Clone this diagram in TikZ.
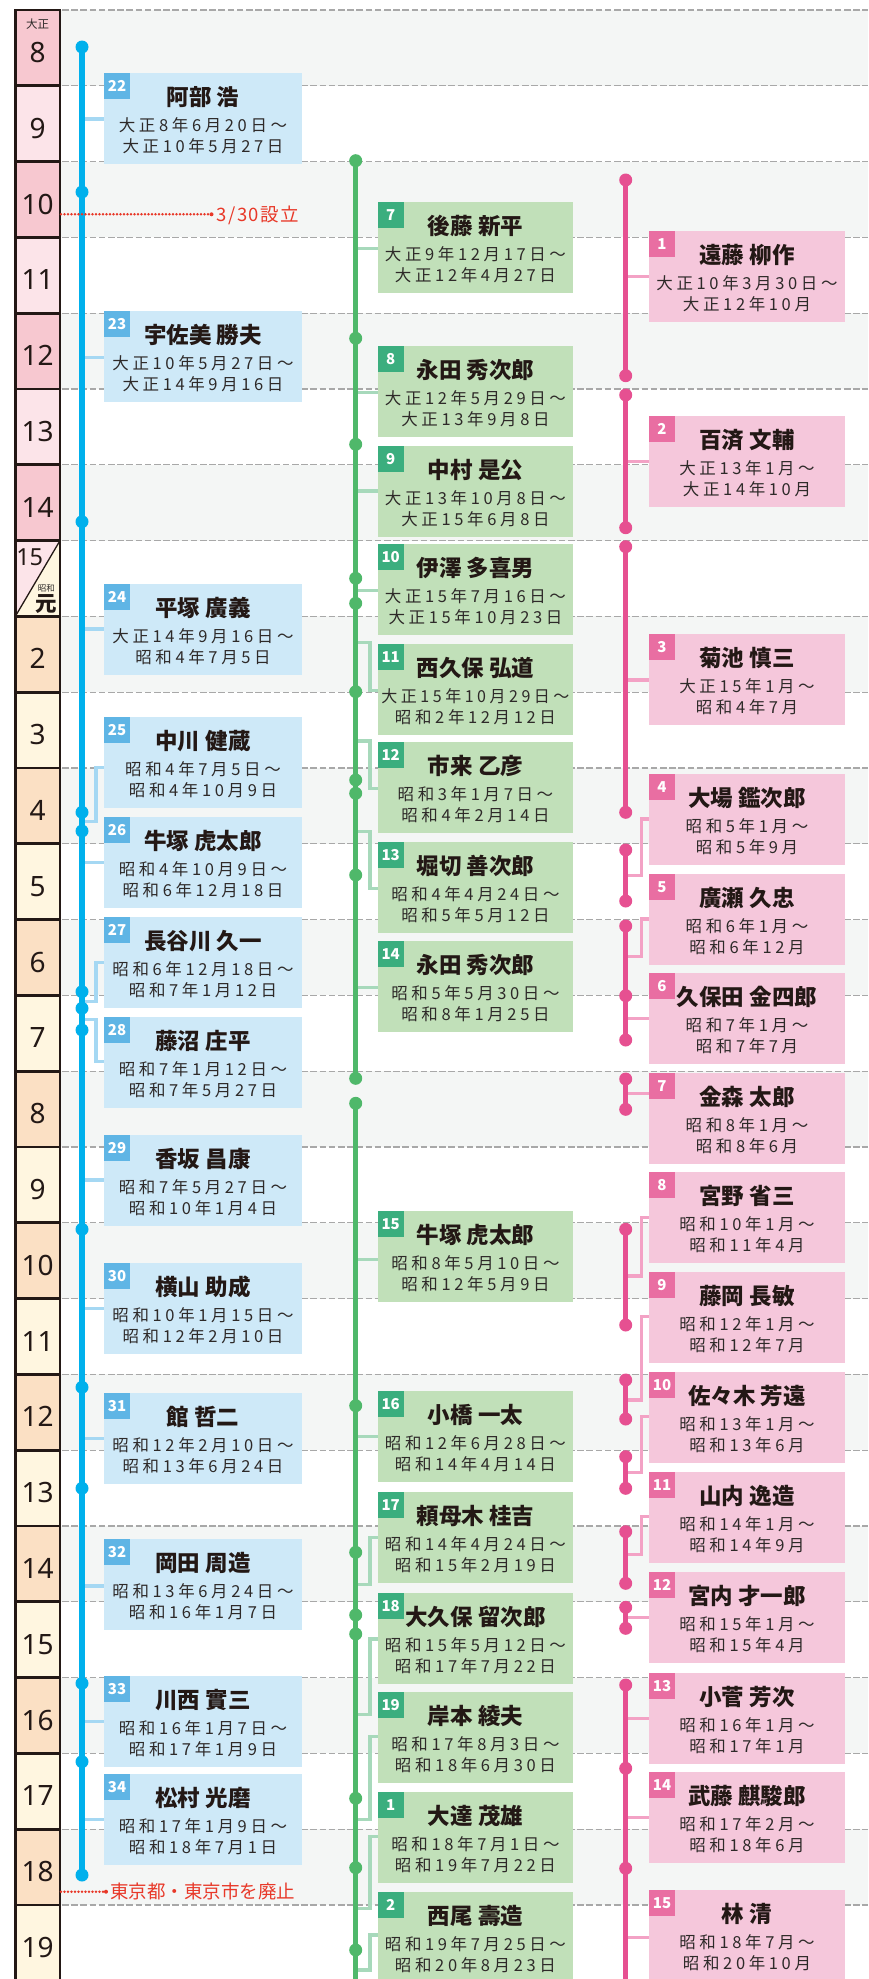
\documentclass[tikz,border=0pt]{standalone}
\usepackage{fontspec}
\usepackage{graphicx}
\setmainfont{Noto Sans CJK JP}
\newfontfamily\cjk{Noto Sans CJK JP}
\newfontfamily\cjkls[LetterSpace=22]{Noto Sans CJK JP}
\newfontfamily\cjkred[LetterSpace=8]{Noto Sans CJK JP}
\newfontfamily\lat{Noto Sans}
\newcommand\namefont{\cjk\bfseries\fontsize{22.5}{24}\selectfont}
\newcommand\datefont{\cjkls\fontsize{16.5}{18}\selectfont}
\newcommand\badgefont{\cjk\bfseries\fontsize{15}{16}\selectfont}
\newcommand\yrfont{\lat\fontsize{28}{30}\selectfont}

\definecolor{mainB}{HTML}{00B0EC}
\definecolor{boxB}{HTML}{CEE9F8}
\definecolor{badgeB}{HTML}{5FB5E5}
\definecolor{linkB}{HTML}{A5D8F3}
\definecolor{mainG}{HTML}{4FB86A}
\definecolor{boxG}{HTML}{C1E0B9}
\definecolor{badgeG}{HTML}{3BAE7E}
\definecolor{linkG}{HTML}{A7D9BB}
\definecolor{mainP}{HTML}{E65091}
\definecolor{boxP}{HTML}{F5C7DB}
\definecolor{badgeP}{HTML}{E96EA2}
\definecolor{linkP}{HTML}{F3A2C5}
\definecolor{nametc}{HTML}{231815}
\definecolor{datetc}{HTML}{2E2A29}
\definecolor{redc}{HTML}{E83828}
\definecolor{dashc}{HTML}{A8A8A8}
\definecolor{bandc}{HTML}{F4F6F5}
\definecolor{tdark}{HTML}{F7C8D0}
\definecolor{tlight}{HTML}{FCE4E9}
\definecolor{sdark}{HTML}{FBE0C4}
\definecolor{slight}{HTML}{FFF6E0}
\definecolor{gridc}{HTML}{231815}

\def\XcolB{104}\def\WcolB{198pt}\def\LcolB{82}
\def\XcolG{377.7}\def\WcolG{195.5pt}\def\LcolG{355.7}
\def\XcolP{649}\def\WcolP{196pt}\def\LcolP{625.7}

\newsavebox\dlbox
\newcommand\dline[1]{\sbox\dlbox{#1}\ifdim\wd\dlbox>188pt\resizebox{188pt}{\height}{\usebox\dlbox}\else\usebox\dlbox\fi}

\newcommand\entry[7]{%
  \edef\curx{\csname Xcol#1\endcsname}%
  \edef\curw{\csname Wcol#1\endcsname}%
  \node[entrybox,fill=box#1,minimum width=\curw] (#2) at (\curx,#3) {};
  \node[badge,fill=badge#1] (#2n) at (#2.north west) {#4};
  \node[nm] (#2t) at ([yshift=-24pt]#2.north) {#5};
  \node[dt] (#2a) at ([yshift=-52.5pt]#2.north) {\dline{#6}};
  \node[dt] (#2b) at ([yshift=-73.5pt]#2.north) {\dline{#7}};
}
\newcommand\sconn[3]{%
  \edef\curl{\csname Lcol#1\endcsname}%
  \coordinate (#2l) at (\curl,#3);
  \draw[conn#1] (#2l) -- (#2l -| #2.west);
}
\newcommand\econn[5]{%
  \edef\curl{\csname Lcol#1\endcsname}%
  \coordinate (#2l) at (\curl,#3);
  \coordinate (#2e) at (#4,#5);
  \draw[conn#1] (#2l) -| (#2e) -- (#2e -| #2.west);
}

\pgfdeclarelayer{bg}
\pgfdeclarelayer{conn}
\pgfsetlayers{bg,conn,main}

\begin{document}
\begin{tikzpicture}[x=1pt,y=-1pt,
  entrybox/.style={anchor=north west,inner sep=0pt,outer sep=0pt,minimum height=91pt,draw=none},
  badge/.style={anchor=north west,inner sep=0pt,outer sep=0pt,minimum width=26pt,minimum height=26pt,text=white,font=\badgefont,text height=10.8pt,text depth=0pt},
  nm/.style={inner sep=0pt,font=\namefont,text=nametc,text height=16.6pt,text depth=0pt},
  dt/.style={inner sep=0pt,font=\datefont,text=datetc,text height=12.2pt,text depth=0pt},
  dotB/.style={circle,fill=mainB,minimum size=13pt,inner sep=0pt,outer sep=0pt},
  dotG/.style={circle,fill=mainG,minimum size=13pt,inner sep=0pt,outer sep=0pt},
  dotP/.style={circle,fill=mainP,minimum size=13pt,inner sep=0pt,outer sep=0pt},
  lineB/.style={mainB,line width=5.5pt},
  lineG/.style={mainG,line width=5.5pt},
  lineP/.style={mainP,line width=5.5pt},
  connB/.style={linkB,line width=3.5pt},
  connG/.style={linkG,line width=3.5pt},
  connP/.style={linkP,line width=3.5pt},
  dashline/.style={dashc,line width=1.2pt,dash pattern=on 6.5pt off 2.7pt},
  gridline/.style={gridc,line width=2.7pt,line join=miter},
  yr/.style={font=\yrfont,text=nametc,anchor=base,inner sep=0pt},
  reddots/.style={redc,line width=2.7pt,dash pattern=on 0pt off 3.5pt,line cap=round},
  redtxt/.style={text=redc,inner sep=0pt,anchor=west,text depth=0pt}
]
\useasboundingbox (0,0) rectangle (868,1979);

\begin{pgfonlayer}{bg}
  \foreach \i in {0,2,...,24} {\fill[bandc] (60,10+75.8*\i) rectangle (868,85.8+75.8*\i);}
  \foreach \i in {0,...,25} {\draw[dashline] (62,10+75.8*\i) -- (868,10+75.8*\i);}
  \foreach \i/\lab/\col in {0/8/tdark,1/9/tlight,2/10/tdark,3/11/tlight,4/12/tdark,5/13/tlight,6/14/tdark,
      8/2/sdark,9/3/slight,10/4/sdark,11/5/slight,12/6/sdark,13/7/slight,14/8/sdark,15/9/slight,
      16/10/sdark,17/11/slight,18/12/sdark,19/13/slight,20/14/sdark,21/15/slight,22/16/sdark,
      23/17/slight,24/18/sdark,25/19/slight} {
    \fill[\col] (15.3,10+75.8*\i) rectangle (60,85.8+75.8*\i);
    \node[yr] (yr\i) at (37.6,62.5+75.8*\i) {\lab};
  }
  \fill[tlight] (15.3,540.6) -- (60,540.6) -- (15.3,616.4) -- cycle;
  \fill[slight] (60,540.6) -- (60,616.4) -- (15.3,616.4) -- cycle;
  \draw[gridc,line width=1.3pt] (15.3,616.4) -- (60,540.6);
  \node[font=\lat\fontsize{23.5}{24}\selectfont,text=nametc,anchor=base,inner sep=0pt] (yr7a) at (29.7,565) {15};
  \node[font=\cjk\fontsize{8.5}{9}\selectfont,text=datetc,inner sep=0pt,text height=6.3pt,text depth=0pt] (yr7b) at (46.3,588.7) {昭和};
  \node[font=\cjk\bfseries\fontsize{21.5}{22}\selectfont,text=nametc,inner sep=0pt,text height=15.9pt,text depth=0pt] (yr7c) at (46,604) {元};
  \node[font=\cjk\fontsize{11.5}{12}\selectfont,text=datetc,inner sep=0pt,text height=8.5pt,text depth=0pt] (era1) at (37.6,24.7) {大正};
  \draw[gridline] (15.3,1995) -- (15.3,10) -- (60,10) -- (60,1995);
  \foreach \i in {1,...,25} {\draw[gridline] (15.3,10+75.8*\i) -- (60,10+75.8*\i);}
\end{pgfonlayer}

% ---------- boxes ----------
\entry{B}{b22}{73}{22}{阿部 浩}{大正8年6月20日～}{大正10年5月27日}
\entry{B}{b23}{311.3}{23}{宇佐美 勝夫}{大正10年5月27日～}{大正14年9月16日}
\entry{B}{b24}{584}{24}{平塚 廣義}{大正14年9月16日～}{昭和4年7月5日}
\entry{B}{b25}{717.3}{25}{中川 健蔵}{昭和4年7月5日～}{昭和4年10月9日}
\entry{B}{b26}{816.7}{26}{牛塚 虎太郎}{昭和4年10月9日～}{昭和6年12月18日}
\entry{B}{b27}{917.3}{27}{長谷川 久一}{昭和6年12月18日～}{昭和7年1月12日}
\entry{B}{b28}{1017.3}{28}{藤沼 庄平}{昭和7年1月12日～}{昭和7年5月27日}
\entry{B}{b29}{1135}{29}{香坂 昌康}{昭和7年5月27日～}{昭和10年1月4日}
\entry{B}{b30}{1263.3}{30}{横山 助成}{昭和10年1月15日～}{昭和12年2月10日}
\entry{B}{b31}{1392.7}{31}{館 哲二}{昭和12年2月10日～}{昭和13年6月24日}
\entry{B}{b32}{1539}{32}{岡田 周造}{昭和13年6月24日～}{昭和16年1月7日}
\entry{B}{b33}{1675.7}{33}{川西 實三}{昭和16年1月7日～}{昭和17年1月9日}
\entry{B}{b34}{1774.3}{34}{松村 光磨}{昭和17年1月9日～}{昭和18年7月1日}

\entry{G}{g7}{201.7}{7}{後藤 新平}{大正9年12月17日～}{大正12年4月27日}
\entry{G}{g8}{346}{8}{永田 秀次郎}{大正12年5月29日～}{大正13年9月8日}
\entry{G}{g9}{446}{9}{中村 是公}{大正13年10月8日～}{大正15年6月8日}
\entry{G}{g10}{544}{10}{伊澤 多喜男}{大正15年7月16日～}{大正15年10月23日}
\entry{G}{g11}{644}{11}{西久保 弘道}{大正15年10月29日～}{昭和2年12月12日}
\entry{G}{g12}{742.3}{12}{市来 乙彦}{昭和3年1月7日～}{昭和4年2月14日}
\entry{G}{g13}{842.3}{13}{堀切 善次郎}{昭和4年4月24日～}{昭和5年5月12日}
\entry{G}{g14}{941}{14}{永田 秀次郎}{昭和5年5月30日～}{昭和8年1月25日}
\entry{G}{g15}{1211}{15}{牛塚 虎太郎}{昭和8年5月10日～}{昭和12年5月9日}
\entry{G}{g16}{1391}{16}{小橋 一太}{昭和12年6月28日～}{昭和14年4月14日}
\entry{G}{g17}{1492.3}{17}{頼母木 桂吉}{昭和14年4月24日～}{昭和15年2月19日}
\entry{G}{g18}{1593.3}{18}{大久保 留次郎}{昭和15年5月12日～}{昭和17年7月22日}
\entry{G}{g19}{1692.3}{19}{岸本 綾夫}{昭和17年8月3日～}{昭和18年6月30日}
\entry{G}{g1}{1792.3}{1}{大達 茂雄}{昭和18年7月1日～}{昭和19年7月22日}
\entry{G}{g2}{1891.7}{2}{西尾 壽造}{昭和19年7月25日～}{昭和20年8月23日}

\entry{P}{p1}{231}{1}{遠藤 柳作}{大正10年3月30日～}{大正12年10月}
\entry{P}{p2}{416}{2}{百済 文輔}{大正13年1月～}{大正14年10月}
\entry{P}{p3}{634}{3}{菊池 慎三}{大正15年1月～}{昭和4年7月}
\entry{P}{p4}{774}{4}{大場 鑑次郎}{昭和5年1月～}{昭和5年9月}
\entry{P}{p5}{874}{5}{廣瀬 久忠}{昭和6年1月～}{昭和6年12月}
\entry{P}{p6}{973.3}{6}{久保田 金四郎}{昭和7年1月～}{昭和7年7月}
\entry{P}{p7}{1073.3}{7}{金森 太郎}{昭和8年1月～}{昭和8年6月}
\entry{P}{p8}{1172.3}{8}{宮野 省三}{昭和10年1月～}{昭和11年4月}
\entry{P}{p9}{1272.3}{9}{藤岡 長敏}{昭和12年1月～}{昭和12年7月}
\entry{P}{p10}{1372.3}{10}{佐々木 芳遠}{昭和13年1月～}{昭和13年6月}
\entry{P}{p11}{1471.7}{11}{山内 逸造}{昭和14年1月～}{昭和14年9月}
\entry{P}{p12}{1572.3}{12}{宮内 才一郎}{昭和15年1月～}{昭和15年4月}
\entry{P}{p13}{1673.3}{13}{小菅 芳次}{昭和16年1月～}{昭和17年1月}
\entry{P}{p14}{1772.3}{14}{武藤 麒駿郎}{昭和17年2月～}{昭和18年6月}
\entry{P}{p15}{1890}{15}{林 清}{昭和18年7月～}{昭和20年10月}

% ---------- connectors ----------
\begin{pgfonlayer}{conn}
  \sconn{B}{b22}{119}
  \sconn{B}{b23}{357.3}
  \sconn{B}{b24}{629}
  \econn{B}{b25}{821.7}{96}{767.3}
  \sconn{B}{b26}{862.7}
  \econn{B}{b27}{1001.7}{96}{962.7}
  \econn{B}{b28}{1019.3}{96}{1061.7}
  \sconn{B}{b29}{1180}
  \sconn{B}{b30}{1308.3}
  \sconn{B}{b31}{1438.3}
  \sconn{B}{b32}{1586}
  \sconn{B}{b33}{1721.7}
  \sconn{B}{b34}{1819.3}

  \sconn{G}{g7}{248.3}
  \sconn{G}{g8}{392.3}
  \sconn{G}{g9}{491}
  \sconn{G}{g10}{590.7}
  \econn{G}{g11}{642.3}{370}{690.7}
  \econn{G}{g12}{741}{370}{788.3}
  \econn{G}{g13}{831.7}{370}{888.3}
  \sconn{G}{g14}{987.3}
  \sconn{G}{g15}{1259.3}
  \sconn{G}{g16}{1436.7}
  \econn{G}{g17}{1584.3}{370}{1537.7}
  \econn{G}{g18}{1714.3}{370}{1639}
  \econn{G}{g19}{1819.3}{370}{1736.7}
  \econn{G}{g1}{1908.3}{370}{1836.7}
  \econn{G}{g2}{1970}{370}{1935}

  \sconn{P}{p1}{276.7}
  \sconn{P}{p2}{461.7}
  \sconn{P}{p3}{680}
  \econn{P}{p4}{875.7}{641.5}{819}
  \econn{P}{p5}{956.7}{641.5}{919}
  \sconn{P}{p6}{1018.3}
  \sconn{P}{p7}{1093.3}
  \econn{P}{p8}{1276}{641.5}{1217.7}
  \econn{P}{p9}{1400}{641.5}{1316.7}
  \econn{P}{p10}{1472.3}{641.5}{1416.7}
  \econn{P}{p11}{1554.3}{641.5}{1516.7}
  \sconn{P}{p12}{1617.7}
  \sconn{P}{p13}{1718.3}
  \sconn{P}{p14}{1817.7}
  \sconn{P}{p15}{1937.7}
\end{pgfonlayer}

% ---------- time lines ----------
\foreach \y [count=\k] in {47,192,521.7,812.3,831,991.7,1008.3,1030,1229.3,1387.3,1488.3,1683.3,1761.7,1875}
  {\node[dotB] (bd\k) at (82,\y) {};}
\draw[lineB] (bd1.center) -- (bd14.center);

\foreach \y [count=\k] in {160.7,338.3,444.3,578.3,603.3,691.7,780,793.3,875,1078.3,1103.3,1405.7,1552.3,1615,1634,1798.3,1867.7,1950}
  {\node[dotG] (gd\k) at (355.7,\y) {};}
\coordinate (gend) at (355.7,1990);
\draw[lineG] (gd1.center) -- (gd10.center);
\draw[lineG] (gd11.center) -- (gend);

\foreach \y [count=\k] in {180,375.7,395,527.7,546.7,812.3,850,901,926,995.7,1040,1079,1109.3,1229.3,1325,1380,1419,1456.7,1488.3,1531.7,1583.3,1607.3,1628.3,1685,1768.3,1868.3}
  {\node[dotP] (pd\k) at (625.7,\y) {};}
\coordinate (pend) at (625.7,1990);
\foreach \a/\b in {1/2,3/4,5/6,7/8,9/11,12/13,14/15,16/17,18/19,20/21,22/23}
  {\draw[lineP] (pd\a.center) -- (pd\b.center);}
\draw[lineP] (pd24.center) -- (pend);

% ---------- annotations ----------
\node[redtxt,font=\cjkred\fontsize{18.5}{19}\selectfont,text height=13.7pt] (est) at (216.5,214.3) {3/30設立};
\coordinate (estS) at (61,214.3);
\draw[reddots] (estS) -- ([xshift=-5pt]est.west);
\fill[redc] ([xshift=-5pt]est.west) circle (2pt);

\node[redtxt,font=\cjk\fontsize{18.5}{19}\selectfont,text height=13.7pt] (abol) at (110,1891.7) {東京都・東京市を廃止};
\coordinate (abolS) at (61,1891.7);
\draw[reddots] (abolS) -- ([xshift=-4pt]abol.west);
\fill[redc] ([xshift=-4pt]abol.west) circle (2pt);
\end{tikzpicture}
\end{document}
